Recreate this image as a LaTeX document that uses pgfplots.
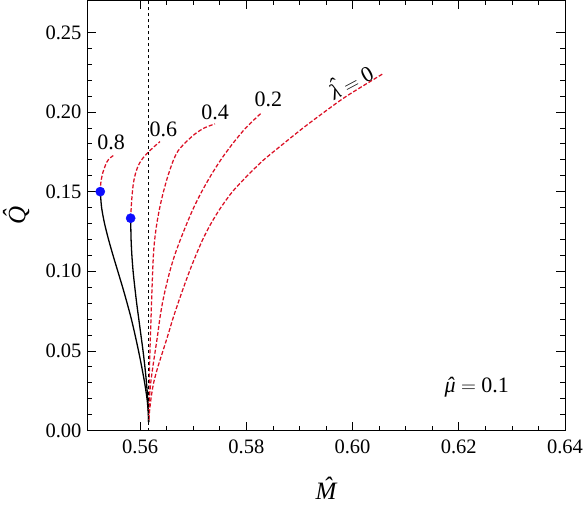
\documentclass[border=0pt]{standalone}
\usepackage{pgfplots}
\pgfplotsset{compat=1.18}
\usepackage{fontspec}
\setmainfont{Liberation Serif}
\usetikzlibrary{calc}

\definecolor{curvered}{rgb}{0.86,0.06,0.14}
\definecolor{dotblue}{rgb}{0.05,0.05,1.0}

% italic letter with a circumflex from the same font
\newcommand{\hatit}[1]{{\itshape\accent"02C6 #1}}
\newcommand{\annot}{\fontsize{22bp}{26bp}\selectfont}

\begin{document}
\begin{tikzpicture}
\begin{axis}[
  width=478bp, height=430bp, scale only axis,
  xmin=0.55, xmax=0.64, ymin=0, ymax=0.27,
  xtick={0.56,0.58,0.60,0.62,0.64},
  ytick={0,0.05,0.10,0.15,0.20,0.25},
  minor x tick num=3, minor y tick num=4,
  tick align=inside,
  major tick length=9bp, minor tick length=5bp,
  tick style={black, line width=0.7bp},
  axis line style={black, line width=0.9bp},
  /pgf/number format/.cd, fixed, fixed zerofill, precision=2, assume math mode=true,
  /pgfplots/.cd,
  tick label style={font=\fontsize{20.5bp}{24bp}\selectfont},
  xticklabel style={yshift=-6bp},
  yticklabel style={xshift=-2bp},
  xlabel={\hatit{M}}, ylabel={\hatit{Q}},
  label style={font=\fontsize{25bp}{29bp}\selectfont},
  xlabel style={at={(axis description cs:0.5,-0.135)}, anchor=center},
  ylabel style={at={(axis description cs:-0.148,0.5)}, anchor=center},
  clip=true,
]

% stable (solid) branches from the turning points down to the cusp
\addplot[black, line width=1.3bp, smooth] coordinates {
  (0.55250,0.1500) (0.55275,0.1400) (0.55330,0.1300) (0.55405,0.1200)
  (0.55490,0.1100) (0.55580,0.1000) (0.55670,0.0900) (0.55755,0.0800)
  (0.55835,0.0700) (0.55905,0.0600) (0.55970,0.0500) (0.56030,0.0400)
  (0.56085,0.0300) (0.56130,0.0200) (0.56152,0.0120) (0.56161,0.0052)};
\addplot[black, line width=1.3bp, smooth] coordinates {
  (0.55822,0.1333) (0.55830,0.1200) (0.55845,0.1100) (0.55868,0.1000)
  (0.55900,0.0900) (0.55935,0.0800) (0.55975,0.0700) (0.56015,0.0600)
  (0.56055,0.0500) (0.56090,0.0400) (0.56120,0.0300) (0.56143,0.0200)
  (0.56156,0.0120) (0.56161,0.0052)};

% unstable (dashed) branches
\pgfplotsset{redbranch/.style={curvered, line width=1.25bp, dash pattern=on 4bp off 2bp, smooth}}
\addplot[redbranch] coordinates {
  (0.55250,0.1500) (0.55262,0.1560) (0.55300,0.1621) (0.55371,0.1684)
  (0.55430,0.1710) (0.55495,0.1726)};
\addplot[redbranch] coordinates {
  (0.55822,0.1333) (0.55841,0.1444) (0.55872,0.1549) (0.55910,0.1610)
  (0.55966,0.1664) (0.56040,0.1705) (0.56124,0.1737) (0.56240,0.1775)
  (0.56374,0.1814)};
\addplot[redbranch] coordinates {
  (0.56161,0.0070) (0.56170,0.0300) (0.56185,0.0500) (0.56205,0.0700)
  (0.56225,0.0900) (0.56250,0.1100) (0.56275,0.1200) (0.56315,0.1300)
  (0.56370,0.1400) (0.56440,0.1500) (0.56525,0.1600) (0.56630,0.1700)
  (0.56719,0.1758) (0.56860,0.1810) (0.57033,0.1862) (0.57210,0.1900)
  (0.57410,0.1925)};
\addplot[redbranch] coordinates {
  (0.56161,0.0070) (0.56175,0.0200) (0.56200,0.0300) (0.56240,0.0400)
  (0.56285,0.0500) (0.56330,0.0600) (0.56370,0.0700) (0.56420,0.0800)
  (0.56485,0.0900) (0.56560,0.1000) (0.56650,0.1100) (0.56760,0.1200)
  (0.56880,0.1300) (0.57010,0.1400) (0.57160,0.1500) (0.57330,0.1600)
  (0.57520,0.1700) (0.57740,0.1800) (0.57990,0.1900) (0.58276,0.1992)};
\addplot[redbranch] coordinates {
  (0.56161,0.0070) (0.56205,0.0200) (0.56255,0.0300) (0.56335,0.0400)
  (0.56430,0.0500) (0.56525,0.0600) (0.56615,0.0700) (0.56715,0.0800)
  (0.56820,0.0900) (0.56930,0.1000) (0.57050,0.1100) (0.57180,0.1200)
  (0.57335,0.1300) (0.57520,0.1400) (0.57740,0.1500) (0.58020,0.1600)
  (0.58330,0.1700) (0.58696,0.1800) (0.59070,0.1900) (0.59470,0.2000)
  (0.59890,0.2100) (0.60567,0.2239)};

% vertical reference line
\addplot[black, line width=0.7bp, dash pattern=on 3bp off 3bp] coordinates {(0.5616,0) (0.5616,0.27)};

% turning points
\addplot[only marks, mark=*, mark size=4.6bp, dotblue, mark options={draw=dotblue, fill=dotblue}]
  coordinates {(0.55250,0.1500) (0.55822,0.1333)};

\node[font=\annot] at (axis cs:0.55452,0.1810) {0.8};
\node[font=\annot] at (axis cs:0.56437,0.1894) {0.6};
\node[font=\annot] at (axis cs:0.57410,0.1998) {0.4};
\node[font=\annot] at (axis cs:0.58414,0.2082) {0.2};
\node[font=\annot, rotate=28] at (axis cs:0.59952,0.2197) {\hatit{λ} $=$ 0};
\node[font=\annot] at (axis cs:0.62338,0.0272) {\hatit{μ} $=$ 0.1};
\end{axis}
\pgfresetboundingbox
\path[use as bounding box] ($(current axis.south west)+(-87bp,-79bp)$) rectangle ($(current axis.north east)+(19bp,0.5bp)$);
\end{tikzpicture}
\end{document}
